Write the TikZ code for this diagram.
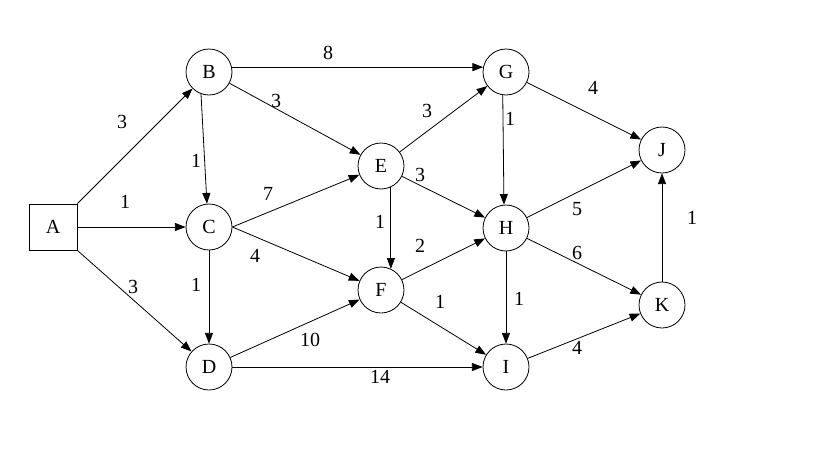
\documentclass[tikz,border=0pt]{standalone}
\usepackage{fontspec}
\setmainfont{Liberation Serif}
\usetikzlibrary{arrows.meta,positioning}
\tikzset{arc/.style={-{Triangle[length=8pt,width=6pt]},line width=0.6pt}}

\begin{document}
\begin{tikzpicture}[x=0.75pt,y=-0.75pt,
  vtx/.style={draw,circle,minimum size=34.5pt,inner sep=0pt,line width=0.6pt,font=\fontsize{15}{18}\selectfont},
  src/.style={draw,rectangle,minimum width=36pt,minimum height=34.5pt,inner sep=0pt,line width=0.6pt,font=\fontsize{15}{18}\selectfont},
  wt/.style={inner sep=1pt,font=\fontsize{15}{18}\selectfont}]
  \useasboundingbox (0,0) rectangle (822,475);

  \node[src] (A) at (53,227) {A};
  \node[vtx] (B) at (209,72) {B};
  \node[vtx] (C) at (209,227) {C};
  \node[vtx] (D) at (209,367) {D};
  \node[vtx] (E) at (381,166) {E};
  \node[vtx] (F) at (381,290) {F};
  \node[vtx] (G) at (506,72) {G};
  \node[vtx] (H) at (506,228) {H};
  \node[vtx] (I) at (506,367) {I};
  \node[vtx] (J) at (662,150) {J};
  \node[vtx] (K) at (662,305) {K};

  \draw[arc] (A.north east) -- (B);
  \draw[arc] (A.east) -- (C);
  \draw[arc] (A.south east) -- (D);
  \draw[arc] (B.12) -- (G.168);
  \draw[arc] (B) -- (E);
  \draw[arc] (B.250) -- (C.95);
  \draw[arc] (C.east) -- (E);
  \draw[arc] (C.east) -- (F);
  \draw[arc] (C) -- (D);
  \draw[arc] (D) -- (F);
  \draw[arc] (D.east) -- (I.west);
  \draw[arc] (E) -- (G);
  \draw[arc] (E) -- (H);
  \draw[arc] (E.295) -- (F.65);
  \draw[arc] (F) -- (H);
  \draw[arc] (F) -- (I);
  \draw[arc] (G.262) -- (H.95);
  \draw[arc] (G) -- (J);
  \draw[arc] (H) -- (J);
  \draw[arc] (H) -- (K);
  \draw[arc] (H) -- (I);
  \draw[arc] (I) -- (K);
  \draw[arc] (K) -- (J);

  % weights
  \node[wt] (wAB) at (122,122) {3};
  \node[wt] (wAC) at (125,202) {1};
  \node[wt] (wAD) at (133,287) {3};
  \node[wt] (wBG) at (328,53) {8};
  \node[wt] (wBE) at (276,101) {3};
  \node[wt] (wBC) at (196,161) {1};
  \node[wt] (wCE) at (268,194) {7};
  \node[wt] (wCF) at (255,256) {4};
  \node[wt] (wCD) at (196,285) {1};
  \node[wt] (wDF) at (310,340) {10};
  \node[wt] (wDI) at (380,377) {14};
  \node[wt] (wEG) at (427,111) {3};
  \node[wt] (wEH) at (420,175) {3};
  \node[wt] (wEF) at (380,222) {1};
  \node[wt] (wFH) at (420,246) {2};
  \node[wt] (wFI) at (440,302) {1};
  \node[wt] (wGH) at (510,119) {1};
  \node[wt] (wGJ) at (593,88) {4};
  \node[wt] (wHJ) at (577,209) {5};
  \node[wt] (wHK) at (577,253) {6};
  \node[wt] (wHI) at (519,299) {1};
  \node[wt] (wIK) at (577,348) {4};
  \node[wt] (wKJ) at (692,218) {1};
\end{tikzpicture}
\end{document}
